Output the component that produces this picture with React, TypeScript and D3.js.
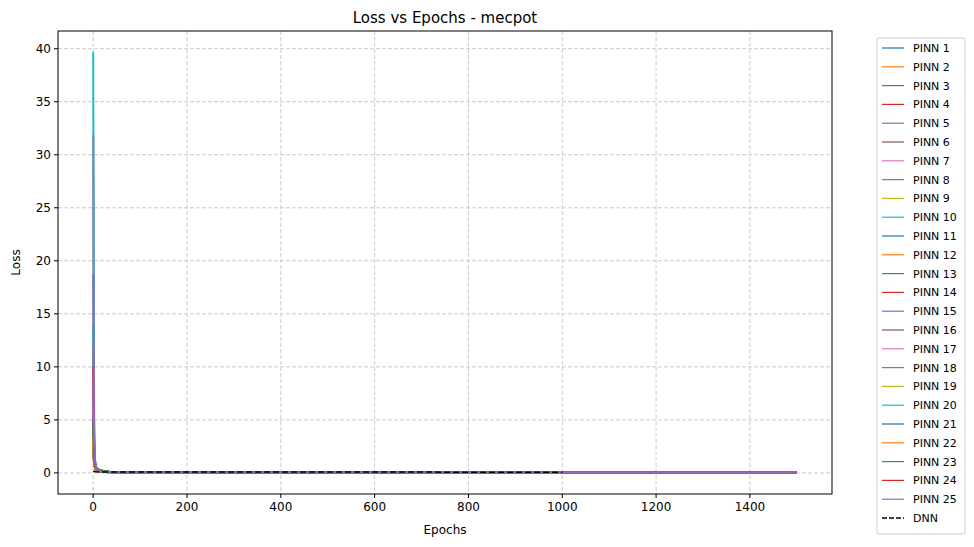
import React from 'react';
import * as d3 from 'd3';

const epochs = [0, 2, 4, 7, 12, 20, 35, 60, 150, 1500];
const dnnEpochs = [0, 5, 20, 1000];
const dnnLoss = [0.15, 0.1, 0.08, 0.07];

const pinnLoss: number[][] = [
  [5.2, 1.2, 0.6, 0.3, 0.2, 0.1, 0.08, 0.06, 0.05, 0.04],
  [3.1, 0.9, 0.5, 0.3, 0.15, 0.1, 0.07, 0.05, 0.05, 0.04],
  [4.0, 1.0, 0.6, 0.4, 0.3, 0.2, 0.1, 0.06, 0.05, 0.04],
  [31.8, 3.4, 1.0, 0.4, 0.25, 0.15, 0.1, 0.07, 0.05, 0.04],
  [6.0, 1.5, 0.7, 0.3, 0.2, 0.1, 0.08, 0.06, 0.05, 0.04],
  [2.5, 0.8, 0.4, 0.25, 0.15, 0.1, 0.07, 0.05, 0.05, 0.04],
  [32.1, 2.0, 0.8, 0.3, 0.2, 0.1, 0.08, 0.06, 0.05, 0.04],
  [3.5, 1.0, 0.5, 0.3, 0.2, 0.1, 0.07, 0.05, 0.05, 0.04],
  [2.8, 0.9, 0.5, 0.3, 0.2, 0.1, 0.07, 0.05, 0.05, 0.04],
  [39.7, 5.1, 1.2, 0.5, 0.3, 0.15, 0.1, 0.07, 0.05, 0.04],
  [4.5, 1.1, 0.6, 0.35, 0.2, 0.1, 0.08, 0.06, 0.05, 0.04],
  [3.0, 0.8, 0.45, 0.3, 0.2, 0.1, 0.07, 0.05, 0.05, 0.04],
  [5.5, 1.3, 0.6, 0.4, 0.3, 0.2, 0.1, 0.06, 0.05, 0.04],
  [12.0, 2.5, 0.9, 0.4, 0.2, 0.1, 0.08, 0.06, 0.05, 0.04],
  [8.0, 1.6, 0.7, 0.35, 0.2, 0.1, 0.08, 0.06, 0.05, 0.04],
  [2.2, 0.7, 0.4, 0.25, 0.15, 0.1, 0.07, 0.05, 0.05, 0.04],
  [6.5, 1.4, 0.7, 0.3, 0.2, 0.1, 0.08, 0.06, 0.05, 0.04],
  [3.8, 1.0, 0.5, 0.3, 0.2, 0.1, 0.07, 0.05, 0.05, 0.04],
  [4.2, 1.0, 0.5, 0.3, 0.2, 0.1, 0.07, 0.05, 0.05, 0.04],
  [14.0, 2.2, 0.9, 0.4, 0.2, 0.1, 0.08, 0.06, 0.05, 0.04],
  [5.0, 1.2, 0.6, 0.3, 0.2, 0.1, 0.08, 0.06, 0.05, 0.04],
  [3.3, 0.9, 0.5, 0.3, 0.2, 0.1, 0.07, 0.05, 0.05, 0.04],
  [4.8, 1.1, 0.6, 0.45, 0.3, 0.2, 0.1, 0.06, 0.05, 0.04],
  [10.0, 2.0, 0.8, 0.4, 0.2, 0.1, 0.08, 0.06, 0.05, 0.04],
  [18.8, 2.8, 1.0, 0.4, 0.2, 0.1, 0.08, 0.06, 0.05, 0.04],
];

const xTicks = [0, 200, 400, 600, 800, 1000, 1200, 1400];
const yTicks = [0, 5, 10, 15, 20, 25, 30, 35, 40];
const colors = d3.schemeCategory10;

const W = 974, H = 547;
const m = { left: 58, right: 832, top: 31, bottom: 494 };

export default function App() {
  const x = d3.scaleLinear().domain([-75, 1575]).range([m.left, m.right]);
  const y = d3.scaleLinear().domain([-1.99, 41.67]).range([m.bottom, m.top]);
  const line = d3.line<[number, number]>().x(d => x(d[0])).y(d => y(d[1]));
  const font = 'DejaVu Sans, sans-serif';
  const names = pinnLoss.map((_, i) => `PINN ${i + 1}`);
  return (
    <svg width={W} height={H} style={{ position: 'absolute', left: 0, top: 0 }} fontFamily={font}>
      <rect width={W} height={H} fill="#fff" />
      {xTicks.map(t => (
        <g key={'x' + t}>
          <line x1={x(t)} x2={x(t)} y1={m.top} y2={m.bottom} stroke="#ccc" strokeDasharray="4,2" />
          <line x1={x(t)} x2={x(t)} y1={m.bottom} y2={m.bottom + 4} stroke="#000" />
          <text x={x(t)} y={m.bottom + 17} fontSize={12} textAnchor="middle">{t}</text>
        </g>
      ))}
      {yTicks.map(t => (
        <g key={'y' + t}>
          <line x1={m.left} x2={m.right} y1={y(t)} y2={y(t)} stroke="#ccc" strokeDasharray="4,2" />
          <line x1={m.left - 4} x2={m.left} y1={y(t)} y2={y(t)} stroke="#000" />
          <text x={m.left - 7} y={y(t) + 4} fontSize={12} textAnchor="end">{t}</text>
        </g>
      ))}
      <g>
        {pinnLoss.map((vals, i) => (
          <path key={i} d={line(vals.map((v, j) => [epochs[j], v]))!} fill="none" stroke={colors[i % 10]} strokeWidth={2} />
        ))}
        <path d={line(dnnLoss.map((v, j) => [dnnEpochs[j], v]))!} fill="none" stroke="#000" strokeWidth={1.5} strokeDasharray="6,3" />
      </g>
      <rect x={m.left} y={m.top} width={m.right - m.left} height={m.bottom - m.top} fill="none" stroke="#000" />
      <text x={(m.left + m.right) / 2} y={m.top - 8} fontSize={15} textAnchor="middle">Loss vs Epochs - mecpot</text>
      <text x={(m.left + m.right) / 2} y={534} fontSize={12} textAnchor="middle">Epochs</text>
      <text transform={`translate(20,${(m.top + m.bottom) / 2}) rotate(-90)`} fontSize={12} textAnchor="middle">Loss</text>
      <rect x={877} y={38} width={88} height={496} rx={2} fill="#fff" stroke="#ccc" />
      {[...names, 'DNN'].map((n, i) => {
        const yy = 48 + i * 18.8;
        const isDnn = n === 'DNN';
        return (
          <g key={n}>
            <line x1={882} x2={904} y1={yy} y2={yy} stroke={isDnn ? '#000' : colors[i % 10]} strokeWidth={isDnn ? 1.5 : 1.2} strokeDasharray={isDnn ? '5,2' : undefined} />
            <text x={913} y={yy + 4} fontSize={11}>{n}</text>
          </g>
        );
      })}
    </svg>
  );
}
